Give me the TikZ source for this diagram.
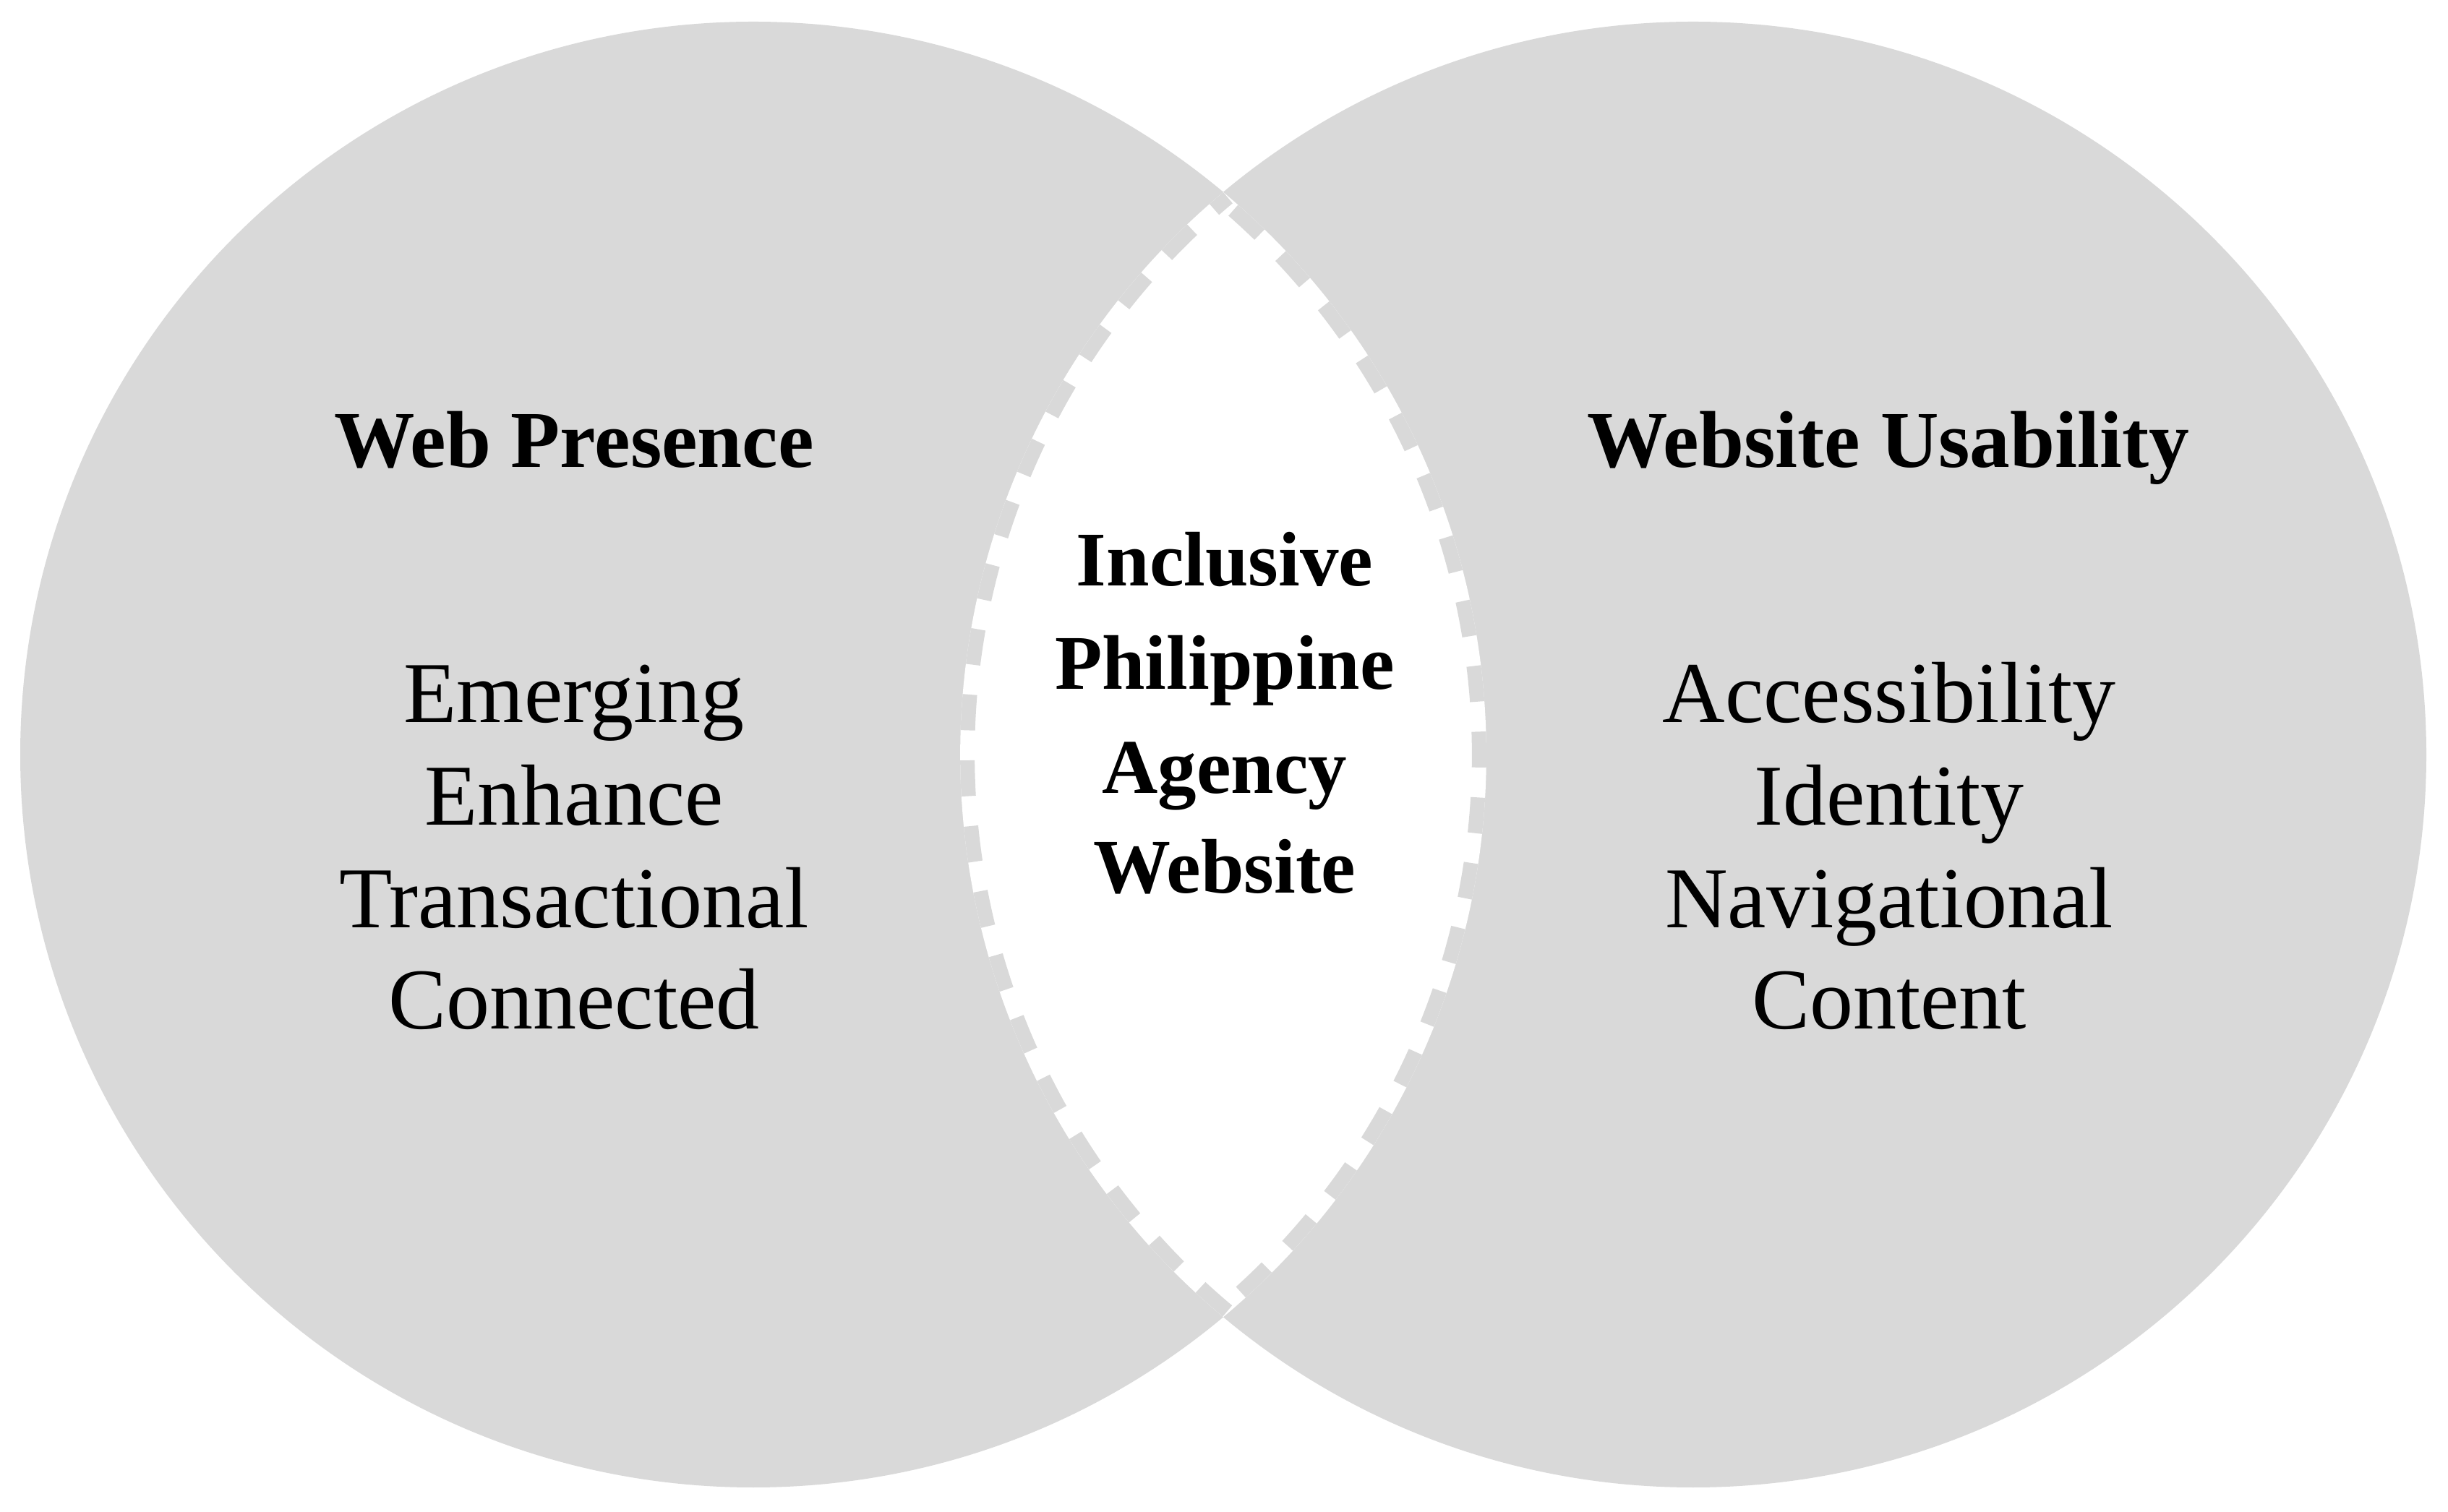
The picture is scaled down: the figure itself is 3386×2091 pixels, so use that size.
\documentclass[tikz,border=0pt]{standalone}
\usepackage{fontspec}
\setmainfont{Liberation Serif}
\definecolor{venngray}{HTML}{D9D9D9}
\begin{document}
\begin{tikzpicture}[x=1pt,y=1pt,
  setfill/.style={fill=venngray, draw=none},
  regtext/.style={font=\fontsize{120}{141}\selectfont, anchor=base, inner sep=0pt, text=black},
  headtext/.style={font=\fontsize{111.5}{133}\selectfont\bfseries, anchor=base, inner sep=0pt, text=black},
  ctrtext/.style={font=\fontsize{107}{142}\selectfont\bfseries, anchor=base, inner sep=0pt, text=black},
  lensborder/.style={draw=venngray, line width=40pt, dash pattern=on 50pt off 42pt, dash phase=25pt}]
\fill[white] (0,0) rectangle (3386,2091);
\useasboundingbox (0,0) rectangle (3386,2091);
\coordinate (cl) at (1042,1047);
\coordinate (cr) at (2342,1047);
\coordinate (top) at (1692,1825);
\fill[setfill] (cl) circle[radius=1014pt];
\fill[setfill] (cr) circle[radius=1014pt];
\fill[white] (top) arc[start angle=129.88, end angle=230.12, radius=1014pt]
  arc[start angle=-50.12, end angle=50.12, radius=1014pt] -- cycle;
\begin{scope}
  \clip (top) arc[start angle=129.88, end angle=230.12, radius=1014pt]
    arc[start angle=-50.12, end angle=50.12, radius=1014pt] -- cycle;
  \draw[lensborder] (top) arc[start angle=129.88, end angle=230.12, radius=1014pt]
    arc[start angle=-50.12, end angle=50.12, radius=1014pt] -- cycle;
\end{scope}
% left set
\node[headtext] (wp) at (794,1444) {Web Presence};
\node[regtext] (l1) at (794,1091) {Emerging};
\node[regtext] (l2) at (794,949) {Enhance};
\node[regtext] (l3) at (794,807) {Transactional};
\node[regtext] (l4) at (794,667) {Connected};
% right set
\node[headtext] (wu) at (2612,1444) {Website Usability};
\node[regtext] (r1) at (2613,1091) {Accessibility};
\node[regtext] (r2) at (2613,949) {Identity};
\node[regtext] (r3) at (2613,807) {Navigational};
\node[regtext] (r4) at (2613,667) {Content};
% centre
\node[ctrtext] (c1) at (1694,1280) {Inclusive};
\node[ctrtext] (c2) at (1694,1137) {Philippine};
\node[ctrtext] (c3) at (1694,993) {Agency};
\node[ctrtext] (c4) at (1694,855) {Website};
\end{tikzpicture}
\end{document}
